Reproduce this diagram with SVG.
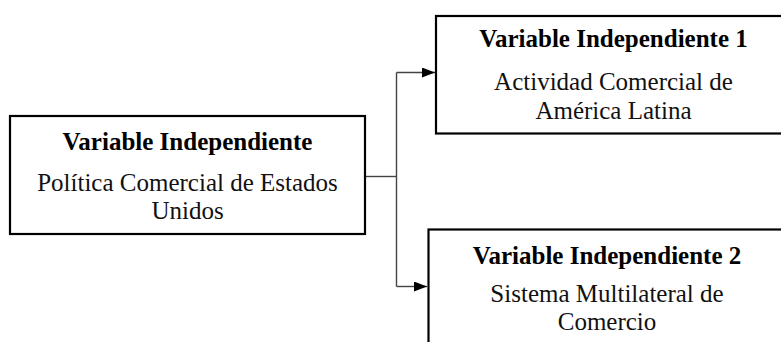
<svg xmlns="http://www.w3.org/2000/svg" width="781" height="342" viewBox="0 0 781 342">
<style>
.box{fill:#fff;stroke:#000;stroke-width:2.2}
.t{font-family:"Liberation Serif","Times New Roman",serif;font-size:25px;fill:#111;text-anchor:middle}
.b{font-weight:bold;fill:#000}
.c{fill:none;stroke:#444;stroke-width:1.4}
</style>
<defs>
<marker id="arr" viewBox="0 0 13 10" refX="13" refY="5" markerWidth="13" markerHeight="10" markerUnits="userSpaceOnUse" orient="auto">
<path d="M0,0 L13,5 L0,10 z" fill="#000"/>
</marker>
</defs>
<rect width="781" height="342" fill="#fff"/>
<g id="connectors">
<path class="c" d="M365,176.5 H396.5"/>
<path class="c" d="M396.5,72.5 V286.5"/>
<path class="c" d="M396.5,72.5 H435" marker-end="url(#arr)"/>
<path class="c" d="M396.5,286.5 H427" marker-end="url(#arr)"/>
</g>
<g id="node-vi">
<rect class="box" x="10" y="116" width="355" height="118"/>
<text class="t b" x="187.5" y="149.5">Variable Independiente</text>
<text class="t" x="187.5" y="190.5">Política Comercial de Estados</text>
<text class="t" x="187.5" y="219">Unidos</text>
</g>
<g id="node-vi1">
<rect class="box" x="436" y="16" width="355" height="117.5"/>
<text class="t b" x="613.5" y="47">Variable Independiente 1</text>
<text class="t" x="613.5" y="90">Actividad Comercial de</text>
<text class="t" x="613.5" y="118.5">América Latina</text>
</g>
<g id="node-vi2">
<rect class="box" x="428.5" y="229.5" width="357" height="130"/>
<text class="t b" x="607" y="264">Variable Independiente 2</text>
<text class="t" x="607" y="301.5">Sistema Multilateral de</text>
<text class="t" x="607" y="330">Comercio</text>
</g>
</svg>
